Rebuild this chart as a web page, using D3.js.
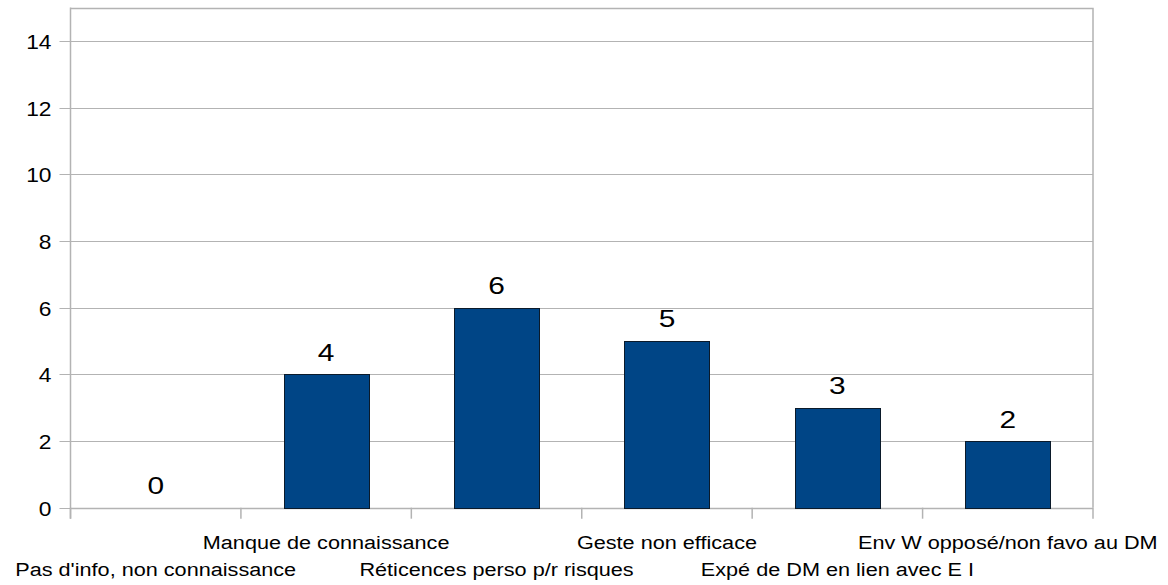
<!DOCTYPE html>
<html>
<head>
<meta charset="utf-8">
<script src="https://cdn.jsdelivr.net/npm/d3@7"></script>
<style>
  html, body { margin: 0; padding: 0; background: #fff; }
  svg { display: block; font-family: "Liberation Sans", Arial, sans-serif; }
</style>
</head>
<body>
<svg id="chart" width="1168" height="585"></svg>
<script>
// Reasons given, with the number of answers for each
const categories = [
  "Pas d'info, non connaissance",
  "Manque de connaissance",
  "Réticences perso p/r risques",
  "Geste non efficace",
  "Expé de DM en lien avec E I",
  "Env W opposé/non favo au DM"
];
const counts = [0, 4, 6, 5, 3, 2];
const yTicks = [0, 2, 4, 6, 8, 10, 12, 14];
const yMax = 15;

const svg = d3.select("#chart");
const plot = { left: 70.5, right: 1093, top: 7.5, bottom: 507.7 };

// text is drawn slightly widened horizontally
const stretch = 1.14;
const valueStretch = 1.22;

const x = d3.scaleBand()
  .domain(categories)
  .range([plot.left, plot.right])
  .paddingInner(0.5)
  .paddingOuter(0.25);

const y = d3.scaleLinear()
  .domain([0, yMax])
  .range([plot.bottom, plot.top]);

const gridColor = "#b3b3b3";
const snap = v => Math.round(v) + 0.5;

// horizontal grid lines
svg.append("g")
  .selectAll("line")
  .data(yTicks)
  .join("line")
  .attr("x1", plot.left)
  .attr("x2", plot.right)
  .attr("y1", d => snap(y(d)))
  .attr("y2", d => snap(y(d)))
  .attr("stroke", gridColor)
  .attr("stroke-width", 1);

// plot frame: top and right edges
svg.append("path")
  .attr("d", `M${plot.left},${snap(plot.top)}H${plot.right}V${plot.bottom}`)
  .attr("fill", "none")
  .attr("stroke", gridColor)
  .attr("stroke-width", 1.5);

// y axis line and ticks
svg.append("line")
  .attr("x1", plot.left).attr("x2", plot.left)
  .attr("y1", plot.top).attr("y2", plot.bottom + 11)
  .attr("stroke", gridColor).attr("stroke-width", 1.5);
svg.append("g")
  .selectAll("line")
  .data(yTicks)
  .join("line")
  .attr("x1", plot.left - 11).attr("x2", plot.left)
  .attr("y1", d => snap(y(d))).attr("y2", d => snap(y(d)))
  .attr("stroke", gridColor).attr("stroke-width", 1);

// y tick labels
svg.append("g")
  .selectAll("text")
  .data(yTicks)
  .join("text")
  .attr("transform", d => `translate(${plot.left - 19},${y(d) + 8}) scale(${stretch},1)`)
  .attr("text-anchor", "end")
  .attr("font-size", 20)
  .attr("fill", "#000")
  .text(d => d3.format("d")(d));

// x axis line and boundary ticks between categories
const step = x.step();
const boundaries = d3.range(categories.length + 1).map(i => plot.left + i * step);
svg.append("line")
  .attr("x1", plot.left).attr("x2", plot.right)
  .attr("y1", snap(plot.bottom)).attr("y2", snap(plot.bottom))
  .attr("stroke", gridColor).attr("stroke-width", 1.5);
svg.append("g")
  .selectAll("line")
  .data(boundaries)
  .join("line")
  .attr("x1", d => d).attr("x2", d => d)
  .attr("y1", plot.bottom).attr("y2", plot.bottom + 11)
  .attr("stroke", gridColor)
  .attr("stroke-width", 1.5);

// category labels, staggered over two rows
svg.append("g")
  .selectAll("text")
  .data(categories)
  .join("text")
  .attr("transform", (d, i) =>
    `translate(${x(d) + x.bandwidth() / 2},${i % 2 === 0 ? 575.7 : 549.2}) scale(${stretch},1)`)
  .attr("text-anchor", "middle")
  .attr("font-size", 19)
  .attr("fill", "#000")
  .text(d => d);

// bars
svg.append("g")
  .selectAll("rect")
  .data(counts.map((v, i) => ({ cat: categories[i], v })).filter(d => d.v > 0))
  .join("rect")
  .attr("x", d => snap(x(d.cat)))
  .attr("y", d => snap(y(d.v)))
  .attr("width", Math.round(x.bandwidth()))
  .attr("height", d => Math.round(y(0)) - Math.round(y(d.v)))
  .attr("fill", "#004586")
  .attr("stroke", "#0b1a2a")
  .attr("stroke-width", 1);

// value labels
svg.append("g")
  .selectAll("text")
  .data(counts.map((v, i) => ({ cat: categories[i], v })))
  .join("text")
  .attr("transform", d =>
    `translate(${x(d.cat) + x.bandwidth() / 2},${y(d.v) - 13.5}) scale(${valueStretch},1)`)
  .attr("text-anchor", "middle")
  .attr("font-size", 24.5)
  .attr("fill", "#000")
  .text(d => d.v);
</script>
</body>
</html>
